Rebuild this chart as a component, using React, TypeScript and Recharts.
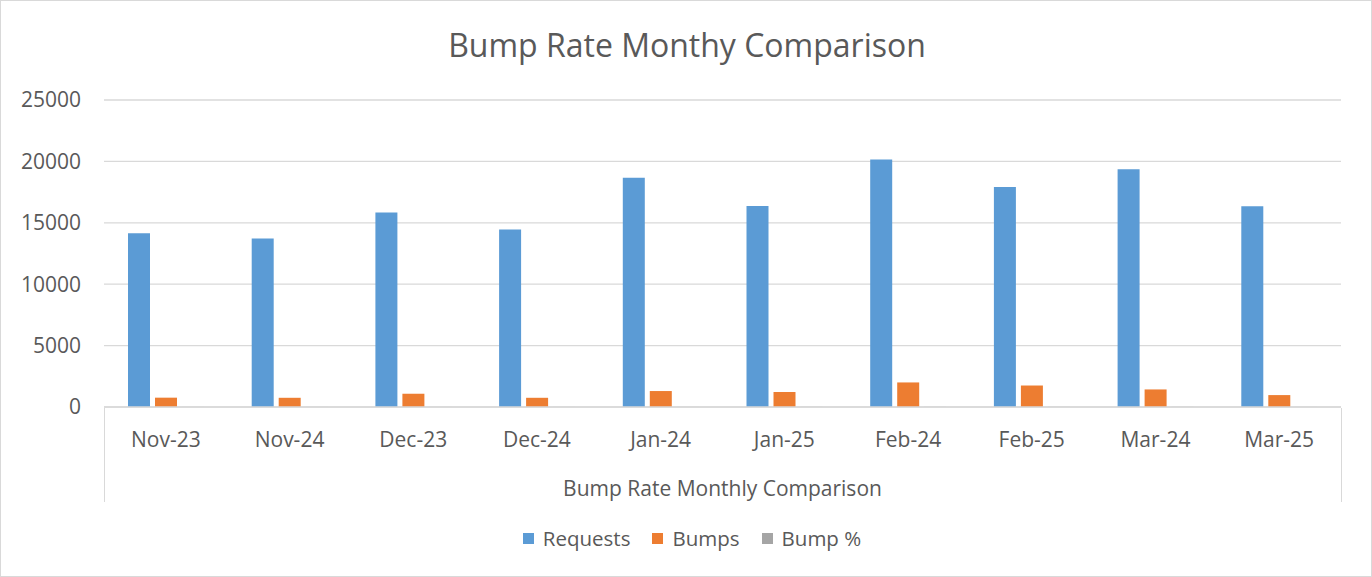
import React from 'react';
import { BarChart, Bar, XAxis, YAxis, CartesianGrid, Legend } from 'recharts';

// values
const months = ['Nov-23', 'Nov-24', 'Dec-23', 'Dec-24', 'Jan-24', 'Jan-25', 'Feb-24', 'Feb-25', 'Mar-24', 'Mar-25'];
const requests = [14150, 13720, 15830, 14450, 18670, 16360, 20150, 17910, 19370, 16340];
const bumps = [760, 750, 1080, 750, 1300, 1220, 2000, 1750, 1430, 970];
const bumpPct = [5.4, 5.5, 6.8, 5.2, 7.0, 7.5, 9.9, 9.8, 7.4, 5.9];
const yTicks = [0, 5000, 10000, 15000, 20000, 25000];
const seriesNames = ['Requests', 'Bumps', 'Bump %'];

const data = months.map((m, i) => ({
  month: m,
  Requests: requests[i],
  Bumps: bumps[i],
  'Bump %': bumpPct[i],
}));

const FONT = '"Open Sans", sans-serif';
const TEXT = '#595959';
const LINE = '#d9d9d9';

const LegendBox = ({ payload }: any) => {
  const items = [...(payload || [])].sort((a: any, b: any) => seriesNames.indexOf(a.value) - seriesNames.indexOf(b.value));
  return (
    <div style={{ display: 'flex', justifyContent: 'center', alignItems: 'center', height: 20, paddingLeft: 43, fontFamily: FONT, fontSize: 20.5, color: TEXT }}>
      {items.map((p: any) => (
        <div key={p.value} style={{ display: 'flex', alignItems: 'center', margin: '0 11px' }}>
          <span style={{ width: 11, height: 11, background: p.color, display: 'inline-block', marginRight: 9 }} />
          <span>{p.value}</span>
        </div>
      ))}
    </div>
  );
};

export default function App() {
  return (
    <div style={{ position: 'absolute', left: 0, top: 0, width: 1372, height: 577, border: `1px solid ${LINE}`, boxSizing: 'border-box', background: '#fff', fontFamily: FONT }}>
      <div style={{ position: 'absolute', top: 22, left: 0, width: 1372, textAlign: 'center', fontSize: 32, color: TEXT, lineHeight: 'normal' }}>
        Bump Rate Monthy Comparison
      </div>
      <div style={{ position: 'absolute', left: -1, top: -1 }}>
        <BarChart width={1372} height={577} data={data} margin={{ top: 100, right: 31, left: 0, bottom: 57 }} barSize={22} barGap={5}>
          <CartesianGrid stroke={LINE} strokeWidth={1.3} vertical={false} />
          <XAxis
            dataKey="month"
            height={93}
            axisLine={{ stroke: LINE, strokeWidth: 1.3 }}
            tickLine={false}
            tickMargin={19}
            tick={{ fill: TEXT, fontSize: 21, fontFamily: FONT }}
            interval={0}
            label={{ value: 'Bump Rate Monthly Comparison', position: 'insideBottom', offset: 4, fill: TEXT, fontSize: 21, fontFamily: FONT }}
          />
          <YAxis
            width={104}
            domain={[0, 25000]}
            ticks={yTicks}
            axisLine={false}
            tickLine={false}
            tickMargin={17}
            tick={{ fill: TEXT, fontSize: 21, fontFamily: FONT }}
          />
          <Legend verticalAlign="bottom" content={<LegendBox />} wrapperStyle={{ bottom: 29 }} />
          <Bar dataKey="Requests" fill="#5B9BD5" isAnimationActive={false} />
          <Bar dataKey="Bumps" fill="#ED7D31" isAnimationActive={false} />
          <Bar dataKey="Bump %" fill="#A5A5A5" isAnimationActive={false} />
        </BarChart>
      </div>
      <div style={{ position: 'absolute', left: 103, top: 407, width: 1.3, height: 94, background: LINE }} />
      <div style={{ position: 'absolute', left: 1340, top: 407, width: 1.3, height: 94, background: LINE }} />
    </div>
  );
}
